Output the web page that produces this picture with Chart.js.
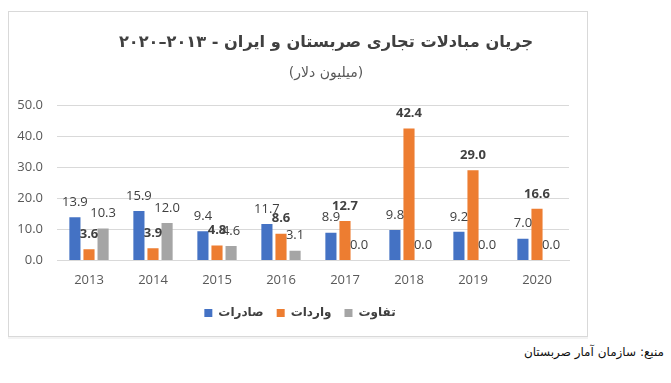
<!DOCTYPE html>
<html>
<head>
<meta charset="utf-8">
<script src="https://cdn.jsdelivr.net/npm/chart.js@4"></script>
<style>
  html, body { margin: 0; padding: 0; background: #fff; }
  body { width: 671px; height: 383px; position: relative; overflow: hidden; }
  #box { position: absolute; left: 8px; top: 11px; width: 578px; height: 324px; border: 1px solid #d9d9d9; box-shadow: 0 2px 0 #f3f3f3; }
  #c { direction: rtl; }
  #src { position: absolute; right: 7px; top: 345px; font: 12px 'DejaVu Sans', sans-serif; direction: rtl; color: #111; white-space: nowrap; }
</style>
</head>
<body>
<div id="box"><canvas id="c" width="578" height="324"></canvas></div>
<div id="src">منبع: سازمان آمار صربستان</div>
<script>
const categories = ['2013', '2014', '2015', '2016', '2017', '2018', '2019', '2020'];
const exportsVals = [13.9, 15.9, 9.4, 11.7, 8.9, 9.8, 9.2, 7.0];
const importsVals = [3.6, 3.9, 4.8, 8.6, 12.7, 42.4, 29.0, 16.6];
const diffVals = [10.3, 12.0, 4.6, 3.1, 0.0, 0.0, 0.0, 0.0];
const seriesNames = ['صادرات', 'واردات', 'تفاوت'];
const titleText = 'جریان مبادلات تجاری صربستان و ایران - ۲۰۱۳–۲۰۲۰';
const subtitleText = '(میلیون دلار)';

const FONT = "'Open Sans', 'DejaVu Sans', sans-serif";

const titlePlugin = {
  id: 'rtlTitles',
  afterLayout(chart) {
    if (chart.legend) { chart.legend.left += 22; }
  },
  afterDraw(chart) {
    const ctx = chart.ctx;
    ctx.save();
    ctx.direction = 'rtl';
    ctx.textAlign = 'center';
    ctx.textBaseline = 'middle';
    ctx.fillStyle = '#404040';
    ctx.font = "bold 16.2px 'DejaVu Sans', sans-serif";
    ctx.fillText(titleText, 317, 31);
    ctx.fillStyle = '#595959';
    ctx.font = "14px 'DejaVu Sans', sans-serif";
    ctx.fillText(subtitleText, 317, 61);
    ctx.restore();
  }
};

const labelPlugin = {
  id: 'valueLabels',
  afterDatasetsDraw(chart) {
    const ctx = chart.ctx;
    ctx.save();
    ctx.direction = 'ltr';
    ctx.textAlign = 'center';
    ctx.textBaseline = 'middle';
    chart.data.datasets.forEach((ds, i) => {
      const meta = chart.getDatasetMeta(i);
      ctx.font = (ds.labelBold ? 'bold ' : '') + '13px ' + FONT;
      ctx.fillStyle = '#404040';
      meta.data.forEach((el, j) => {
        ctx.fillText(ds.data[j].toFixed(1), el.x, el.y - 15);
      });
    });
    ctx.restore();
  }
};

new Chart(document.getElementById('c'), {
  type: 'bar',
  data: {
    labels: categories,
    datasets: [
      { label: seriesNames[0], data: exportsVals, backgroundColor: '#4472C4', labelBold: false },
      { label: seriesNames[1], data: importsVals, backgroundColor: '#ED7D31', labelBold: true },
      { label: seriesNames[2], data: diffVals, backgroundColor: '#A5A5A5', labelBold: false }
    ]
  },
  options: {
    responsive: false,
    animation: false,
    devicePixelRatio: 1,
    layout: { padding: { top: 93, right: 18, bottom: 7, left: 0 } },
    datasets: { bar: { barPercentage: 0.79, categoryPercentage: 0.66 } },
    plugins: {
      title: { display: false },
      subtitle: { display: false },
      legend: {
        position: 'bottom', rtl: false,
        labels: {
          boxWidth: 8, boxHeight: 8, color: '#404040',
          font: { family: "'DejaVu Sans', sans-serif", size: 12, weight: 'bold' }, padding: 13
        }
      },
      tooltip: { enabled: false }
    },
    scales: {
      x: {
        afterFit(scale) { scale.height -= 6; },
        grid: { display: false, drawTicks: false },
        border: { display: true, color: '#d9d9d9' },
        ticks: { color: '#595959', font: { family: FONT, size: 13 }, padding: 12 }
      },
      y: {
        min: 0, max: 50,
        afterFit(scale) { scale.width = 48; },
        grid: { color: '#d9d9d9', drawTicks: false },
        border: { display: false },
        ticks: { stepSize: 10, color: '#595959', font: { family: FONT, size: 13 }, padding: 14,
          callback: v => Number(v).toFixed(1) }
      }
    }
  },
  plugins: [labelPlugin, titlePlugin]
});
</script>
</body>
</html>
